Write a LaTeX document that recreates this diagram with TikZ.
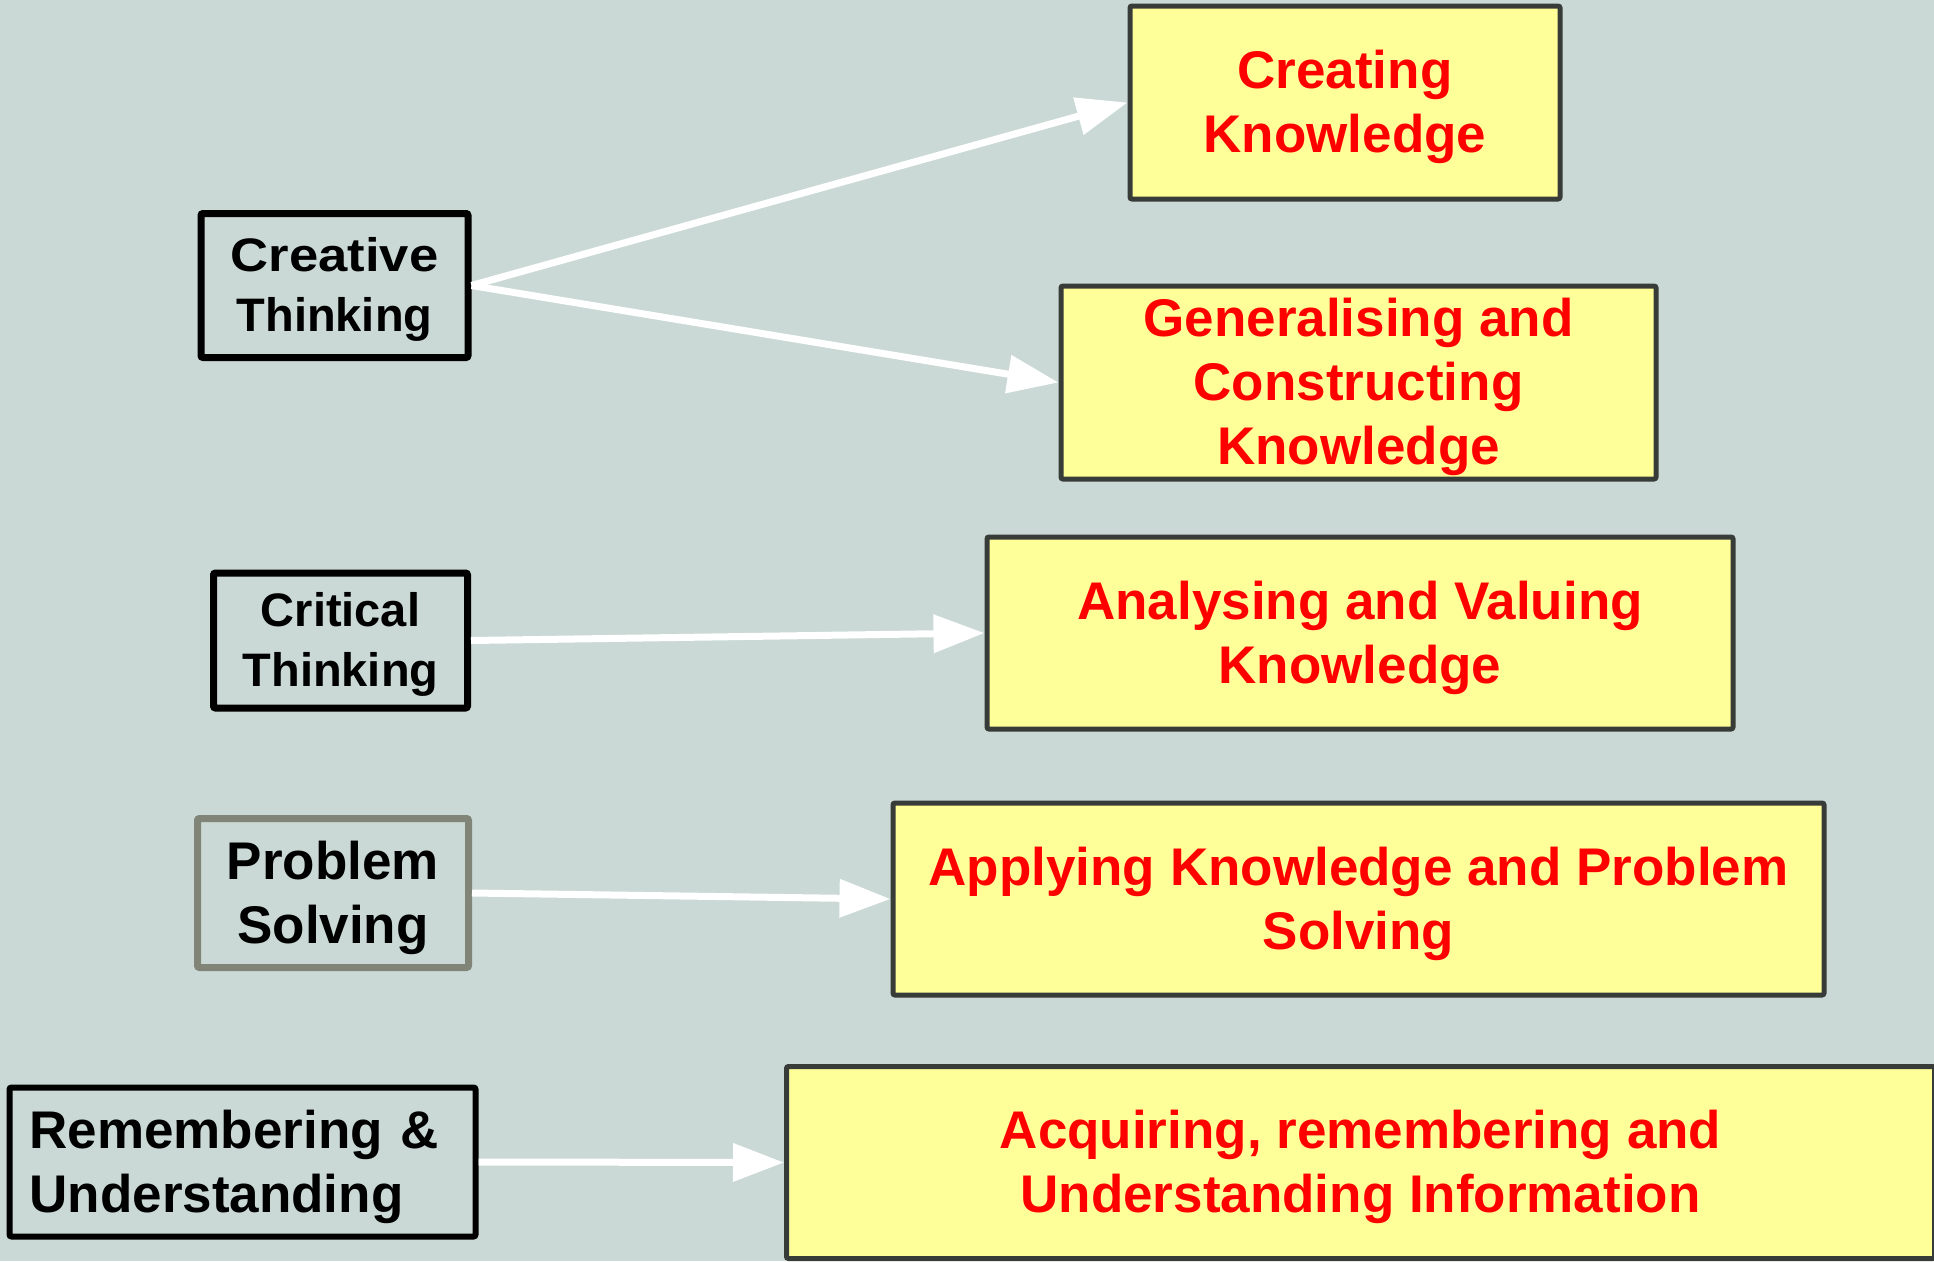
\documentclass[tikz,border=0pt]{standalone}
\usepackage{fontspec}
\setmainfont{Liberation Sans}
\usetikzlibrary{arrows.meta}
\definecolor{bgcol}{RGB}{202,217,213}
\definecolor{boxyellow}{RGB}{255,255,153}
\definecolor{boxdark}{RGB}{56,60,56}
\definecolor{boxgray}{RGB}{128,133,120}
\definecolor{txtred}{RGB}{255,0,0}
\newcommand{\topstrut}{\rule{0pt}{0.905em}}
\tikzset{
  every node/.style={font=\bfseries\fontsize{53}{64}\selectfont, inner sep=0pt},
  smalltext/.style={font=\bfseries\fontsize{47}{60}\selectfont},
  skillbox/.style={draw=black, line width=7pt, rounded corners=2pt, align=center},
  levelbox/.style={draw=boxdark, fill=boxyellow, line width=5pt, rounded corners=2pt, align=center, text=txtred},
  link/.style={draw=white, line width=7pt, -{Triangle[length=51pt,width=37pt]}}
}
\begin{document}
\begin{tikzpicture}[x=1pt,y=-1pt]
\fill[bgcol] (0,0) rectangle (1934,1261);
\useasboundingbox (0,0) rectangle (1934,1261);

\node[skillbox, smalltext, minimum width=267pt, minimum height=144pt] (creative) at (334.5,285.5) {\topstrut\scalebox{1.12}[1]{Creative}\\Thinking};
\node[skillbox, smalltext, minimum width=254pt, minimum height=135pt] (critical) at (340.5,640.5) {\topstrut Critical\\Thinking};
\node[skillbox, draw=boxgray, minimum width=271pt, minimum height=149pt] (problem) at (333,893) {\topstrut Problem\\Solving};
\node[skillbox, line width=6pt, minimum width=466pt, minimum height=149pt, text width=426pt, align=left] (remember) at (242.5,1162) {\topstrut Remembering \&\\Understanding};

\node[levelbox, minimum width=430pt, minimum height=193pt] (creating) at (1345,102.5) {\topstrut Creating\\Knowledge};
\node[levelbox, minimum width=595pt, minimum height=193pt] (general) at (1358.5,382.5) {\topstrut Generalising and\\Constructing\\Knowledge};
\node[levelbox, minimum width=746pt, minimum height=192pt] (analysing) at (1360,633) {\topstrut Analysing and Valuing\\Knowledge};
\node[levelbox, minimum width=931pt, minimum height=192pt] (applying) at (1358.5,899) {\topstrut Applying Knowledge and Problem\\Solving};
\node[levelbox, minimum width=1148pt, minimum height=192pt] (acquiring) at (1360.5,1162.5) {\topstrut Acquiring, remembering and\\Understanding Information};

\draw[link] (creative.east) -- (creating.west);
\draw[link] (creative.east) -- (general.west);
\draw[link] (critical.east) -- (analysing.west);
\draw[link] (problem.east) -- (applying.west);
\draw[link] (remember.east) -- (acquiring.west);
\end{tikzpicture}
\end{document}
